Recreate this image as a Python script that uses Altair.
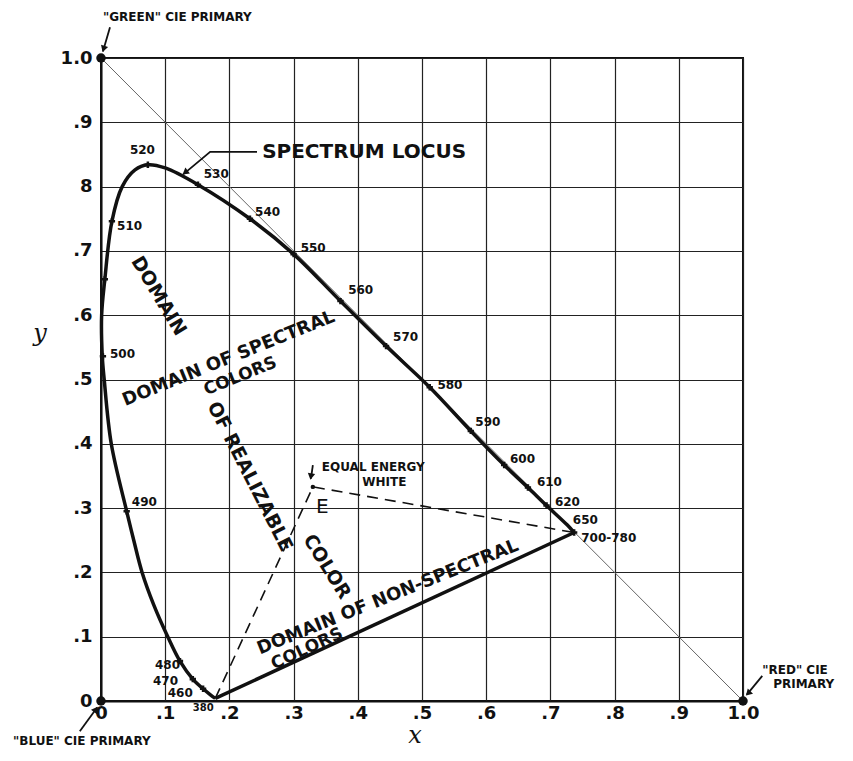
import altair as alt
import pandas as pd

# ---------------- data ----------------
# spectrum locus, from 380 nm round to 700 nm
locus_x = [0.178, 0.170, 0.159, 0.143, 0.123, 0.104, 0.082, 0.064, 0.051, 0.040, 0.016,
           0.005, 0.002, 0.001, 0.006, 0.017, 0.033, 0.053, 0.073, 0.100, 0.151, 0.232,
           0.300, 0.373, 0.444, 0.512, 0.576, 0.628, 0.665, 0.694, 0.726, 0.737]
locus_y = [0.004, 0.010, 0.019, 0.034, 0.062, 0.100, 0.150, 0.200, 0.250, 0.295, 0.400,
           0.500, 0.536, 0.600, 0.656, 0.746, 0.800, 0.826, 0.834, 0.829, 0.803, 0.750,
           0.695, 0.622, 0.552, 0.488, 0.420, 0.367, 0.332, 0.304, 0.274, 0.262]

# tick marks on the locus
tick_x = [0.159, 0.143, 0.123, 0.040, 0.003, 0.006, 0.017, 0.073, 0.151, 0.232, 0.300,
          0.373, 0.444, 0.512, 0.576, 0.628, 0.665, 0.694, 0.737]
tick_y = [0.019, 0.034, 0.062, 0.295, 0.536, 0.656, 0.746, 0.834, 0.803, 0.750, 0.695,
          0.622, 0.552, 0.488, 0.420, 0.367, 0.332, 0.304, 0.262]

# wavelength labels
wl_text = ["460", "470", "480", "490", "500", "510", "520", "530", "540", "550", "560",
           "570", "580", "590", "600", "610", "620", "650", "700-780"]
wl_x = [0.104, 0.081, 0.084, 0.048, 0.014, 0.025, 0.045, 0.160, 0.240, 0.311, 0.385,
        0.455, 0.524, 0.583, 0.637, 0.679, 0.707, 0.735, 0.748]
wl_y = [0.012, 0.031, 0.056, 0.310, 0.540, 0.738, 0.857, 0.819, 0.760, 0.704, 0.639,
        0.566, 0.491, 0.434, 0.377, 0.341, 0.310, 0.282, 0.254]

# the three CIE primaries
prim_x = [0.0, 0.0, 1.0]
prim_y = [1.0, 0.0, 0.0]

# equal energy white and the ends of the purple line
white_xy = (0.330, 0.333)
violet_end = (0.178, 0.004)
red_end = (0.737, 0.262)

# rotated region labels
dom_text = ["DOMAIN", "DOMAIN OF SPECTRAL", "COLORS", "OF REALIZABLE", "COLOR",
            "DOMAIN OF NON-SPECTRAL", "COLORS"]
dom_x = [0.090, 0.199, 0.217, 0.232, 0.352, 0.447, 0.321]
dom_y = [0.630, 0.532, 0.505, 0.349, 0.209, 0.161, 0.081]
dom_angle = [59, 338, 338, 63, 58, 338, 335]
dom_size = [19, 18, 17, 19, 19, 18, 17]

# small annotations (left aligned)
note_text = ['"GREEN"  CIE  PRIMARY', '"BLUE"  CIE  PRIMARY', '"RED" CIE', "PRIMARY",
             "EQUAL  ENERGY", "WHITE"]
note_x = [0.003, -0.137, 1.030, 1.047, 0.344, 0.407]
note_y = [1.064, -0.062, 0.048, 0.026, 0.364, 0.341]

ticks = [0, 0.1, 0.2, 0.3, 0.4, 0.5, 0.6, 0.7, 0.8, 0.9, 1.0]

# ---------------- frames ----------------
locus = pd.DataFrame({"x": locus_x, "y": locus_y, "o": range(len(locus_x))})
tks = pd.DataFrame({"x": tick_x, "y": tick_y})
wl = pd.DataFrame({"t": wl_text, "x": wl_x, "y": wl_y})
prim = pd.DataFrame({"x": prim_x, "y": prim_y})
diag = pd.DataFrame({"x": [0.0, 1.0], "y": [1.0, 0.0]})
purple = pd.DataFrame({"x": [violet_end[0], red_end[0]], "y": [violet_end[1], red_end[1]]})
dashed = pd.DataFrame({"x": [violet_end[0], white_xy[0], red_end[0]],
                       "y": [violet_end[1], white_xy[1], red_end[1]], "o": [0, 1, 2]})
dom = pd.DataFrame({"t": dom_text, "x": dom_x, "y": dom_y, "a": dom_angle, "s": dom_size})
notes = pd.DataFrame({"t": note_text, "x": note_x, "y": note_y})

arrows = pd.DataFrame({
    "seg": ["sl", "sl", "sl", "g", "g", "b", "b", "r", "r", "w", "w"],
    "o": [0, 1, 2, 0, 1, 0, 1, 0, 1, 0, 1],
    "x": [0.243, 0.170, 0.128, 0.014, 0.003, -0.033, -0.006, 1.030, 1.006, 0.330, 0.327],
    "y": [0.854, 0.854, 0.819, 1.048, 1.010, -0.047, -0.010, 0.039, 0.010, 0.367, 0.346],
})
heads = pd.DataFrame({
    "x": [0.131, 0.004, -0.008, 1.008, 0.327],
    "y": [0.822, 1.014, -0.013, 0.012, 0.349],
    "a": [232, 198, 36, 225, 190],
})

FONT = "DejaVu Sans"
xs = alt.Scale(domain=[0, 1], nice=False, zero=False)
ys = alt.Scale(domain=[0, 1], nice=False, zero=False)

common_axis = dict(values=ticks, labelFont=FONT, labelFontWeight="bold", labelFontSize=18,
                   labelColor="#111", tickSize=0, domain=True, domainColor="#111",
                   domainWidth=2, grid=True, gridColor="#222", gridWidth=1.2,
                   gridOpacity=1, title=None, labelFlush=False, labelOverlap=False)
x_axis = alt.Axis(labelPadding=3,
                  labelExpr="datum.value == 0 ? '0' : datum.value == 1 ? '1.0' : replace(format(datum.value, '.1f'), '0.', '.')",
                  **common_axis)
y_axis = alt.Axis(labelPadding=9,
                  labelExpr="datum.value == 0 ? '0' : datum.value == 1 ? '1.0' : abs(datum.value - 0.8) < 0.001 ? '8' : replace(format(datum.value, '.1f'), '0.', '.')",
                  **common_axis)


def X():
    return alt.X("x:Q", scale=xs, axis=x_axis)


def Y():
    return alt.Y("y:Q", scale=ys, axis=y_axis)


base_grid = alt.Chart(diag).mark_line(color="#666", strokeWidth=1).encode(x=X(), y=Y())

locus_line = alt.Chart(locus).mark_line(color="#111", strokeWidth=3.5,
                                        interpolate="catmull-rom").encode(
    x=X(), y=Y(), order="o:Q")

tick_pts = alt.Chart(tks).mark_point(shape="cross", filled=True, color="#111",
                                     size=40, opacity=1).encode(x=X(), y=Y())

purple_line = alt.Chart(purple).mark_line(color="#111", strokeWidth=3.5).encode(x=X(), y=Y())

dash_line = alt.Chart(dashed).mark_line(color="#111", strokeWidth=1.6,
                                        strokeDash=[11, 7]).encode(
    x=X(), y=Y(), order="o:Q")

prim_pts = alt.Chart(prim).mark_circle(color="#111", size=90, opacity=1).encode(x=X(), y=Y())

white_pt = alt.Chart(pd.DataFrame({"x": [white_xy[0]], "y": [white_xy[1]]})).mark_circle(
    color="#111", size=20, opacity=1).encode(x=X(), y=Y())

arrow_lines = alt.Chart(arrows).mark_line(color="#111", strokeWidth=1.8).encode(
    x=X(), y=Y(), detail="seg:N", order="o:Q")

arrow_heads = alt.Chart(heads).mark_point(shape="triangle-up", filled=True, color="#111",
                                          size=55, opacity=1).encode(
    x=X(), y=Y(), angle=alt.Angle("a:Q", scale=None))

wl_labels = alt.Chart(wl).mark_text(font=FONT, fontWeight="bold", fontSize=12,
                                    align="left", baseline="middle", color="#111").encode(
    x=X(), y=Y(), text="t:N")

label_380 = alt.Chart(pd.DataFrame({"t": ["380"], "x": [0.143], "y": [-0.011]})).mark_text(
    font=FONT, fontWeight="bold", fontSize=10, align="left", baseline="middle",
    color="#111").encode(x=X(), y=Y(), text="t:N")

dom_labels = alt.Chart(dom).mark_text(font=FONT, fontWeight="bold", align="center",
                                      baseline="middle", color="#111").encode(
    x=X(), y=Y(), text="t:N", angle=alt.Angle("a:Q", scale=None),
    size=alt.Size("s:Q", scale=None))

note_labels = alt.Chart(notes).mark_text(font=FONT, fontWeight="bold", fontSize=12,
                                         align="left", baseline="middle",
                                         color="#111").encode(
    x=X(), y=Y(), text="t:N")

spec_label = alt.Chart(pd.DataFrame({"t": ["SPECTRUM  LOCUS"], "x": [0.251], "y": [0.854]})).mark_text(
    font=FONT, fontWeight="bold", fontSize=20, align="left", baseline="middle",
    color="#111").encode(x=X(), y=Y(), text="t:N")

e_label = alt.Chart(pd.DataFrame({"t": ["E"], "x": [0.335], "y": [0.302]})).mark_text(
    font=FONT, fontSize=20, align="left", baseline="middle", color="#111").encode(
    x=X(), y=Y(), text="t:N")

axis_titles = alt.Chart(pd.DataFrame({"t": ["y", "x"], "x": [-0.095, 0.489],
                                      "y": [0.571, -0.055]})).mark_text(
    font="DejaVu Serif", fontStyle="italic", fontSize=24, align="center",
    baseline="middle", color="#111").encode(x=X(), y=Y(), text="t:N")

chart = alt.layer(
    base_grid, dash_line, purple_line, locus_line, tick_pts, prim_pts, white_pt,
    arrow_lines, arrow_heads, wl_labels, label_380, dom_labels, note_labels,
    spec_label, e_label, axis_titles,
).properties(
    width=642, height=643,
    autosize=alt.AutoSizeParams(type="none"),
    padding={"left": 93, "top": 50, "right": 102, "bottom": 48},
    background="white",
).configure_view(stroke="#111", strokeWidth=2)

chart.save("out.html", embed_options={"renderer": "svg", "actions": False})
